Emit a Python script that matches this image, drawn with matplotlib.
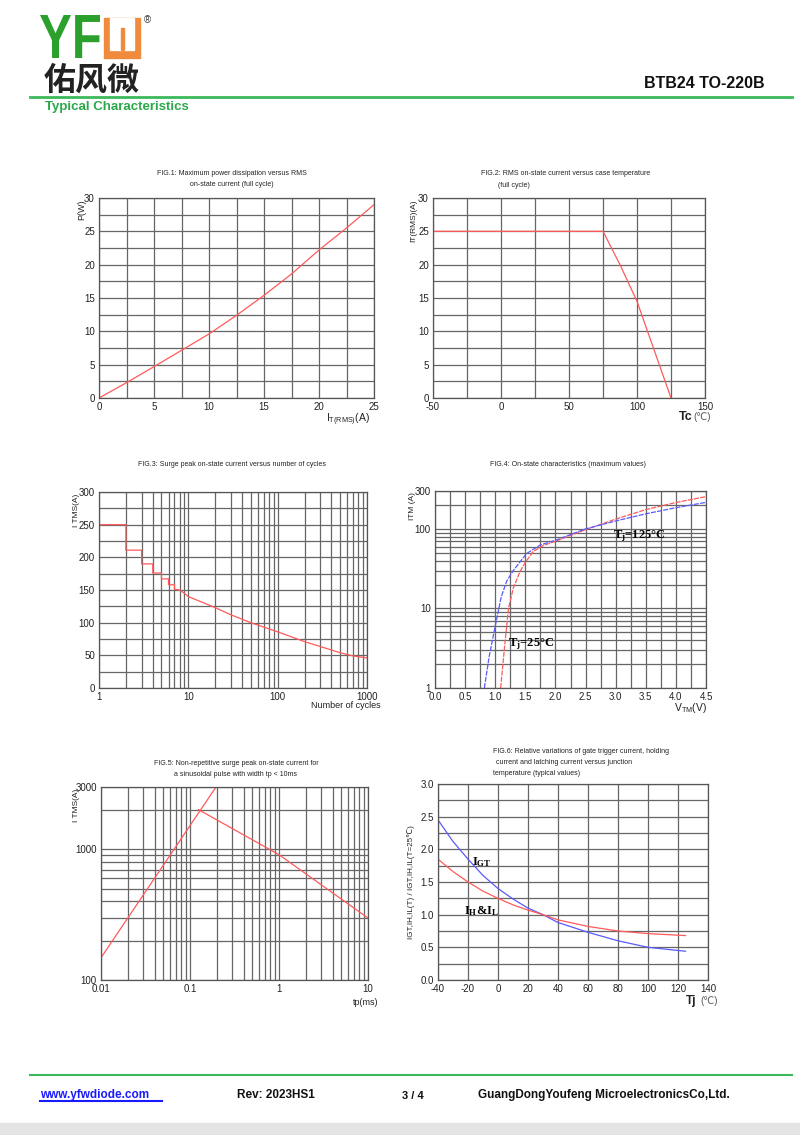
import numpy as np
import matplotlib
matplotlib.use("Agg")
import matplotlib.pyplot as plt
from matplotlib.patches import Rectangle, PathPatch
from matplotlib.textpath import TextPath
from matplotlib.font_manager import FontProperties
from matplotlib.transforms import Affine2D
from matplotlib.ticker import MultipleLocator, LogLocator, NullFormatter, FixedLocator

plt.rcParams['font.family'] = ['Liberation Sans', 'DejaVu Sans']
plt.rcParams['mathtext.default'] = 'regular'
plt.rcParams['axes.unicode_minus'] = False

# ─── Data ───────────────────────────────────────────────────────────────────
# FIG.1  P(W) vs IT(RMS)
fig1_it = [0, 2.5, 5, 7.5, 10, 12.5, 15, 17.5, 20, 22.5, 25]
fig1_p  = [0, 2.3, 4.7, 7.15, 9.6, 12.4, 15.4, 18.6, 22.2, 25.5, 29.0]

# FIG.2  IT(RMS) vs Tc
fig2_tc = [-50, 75, 87.5, 100, 125]
fig2_it = [25, 25, 20, 14.5, 0]

# FIG.3  surge current vs number of cycles (steps then smooth)
fig3_n   = [1, 2, 2, 3, 3, 4, 4, 5, 5, 6, 6, 7, 7, 8, 9, 10, 20, 30, 50, 100, 200, 500, 700, 1000]
fig3_itm = [250, 250, 211, 211, 190, 190, 176, 176, 167, 167, 158, 158, 151, 150, 145, 140,
            123, 112, 100, 86, 71, 54, 49, 46]

# FIG.4  on-state characteristics
fig4_v25  = [1.09, 1.15, 1.22, 1.3, 1.41, 1.5, 1.63, 1.8, 2.0, 2.5, 3.0, 3.5, 4.0, 4.5]
fig4_i25  = [1, 3, 10, 18, 29, 38, 52, 62, 70, 98, 133, 175, 215, 255]
fig4_v125 = [0.82, 0.9, 1.0, 1.1, 1.19, 1.3, 1.52, 1.75, 2.0, 2.5, 3.0, 3.5, 4.0, 4.5]
fig4_i125 = [1, 2.5, 6, 14, 22, 30, 49, 63, 72, 100, 126, 155, 185, 216]

# FIG.5  non-repetitive surge vs tp
fig5_tp_up = [0.01, 0.196]
fig5_i_up  = [148, 3000]
fig5_tp_dn = [0.124, 1, 10]
fig5_i_dn  = [2017, 910, 298]

# FIG.6  relative variation vs Tj
fig6_tj  = [-40, -30, -20, -10, 0, 10, 20, 30, 40, 60, 80, 100, 125]
fig6_igt = [2.45, 2.12, 1.85, 1.6, 1.4, 1.24, 1.1, 1.0, 0.88, 0.73, 0.6, 0.5, 0.44]
fig6_ih  = [1.85, 1.66, 1.5, 1.36, 1.25, 1.15, 1.07, 1.0, 0.92, 0.82, 0.75, 0.71, 0.68]

RED = '#ff5a5a'
BLUE = '#5a5aff'
GRID = '#666666'

W, H = 800, 1135
fig = plt.figure(figsize=(W / 100, H / 100), dpi=100)


def fx(px):
    return px / W


def fy(py):
    return 1 - py / H


def make_axes(x0, y0, x1, y1):
    ax = fig.add_axes([fx(x0), fy(y1), fx(x1 - x0), (y1 - y0) / H])
    for s in ax.spines.values():
        s.set_color('#555555')
        s.set_linewidth(0.9)
    ax.tick_params(which='both', length=0, labelsize=7, pad=3, colors='#222222')
    return ax


def grid(ax):
    ax.grid(which='both', color=GRID, linewidth=0.9)
    ax.set_axisbelow(True)


def ftext(px, py, s, **kw):
    kw.setdefault('fontsize', 5)
    kw.setdefault('color', '#222222')
    fig.text(fx(px), fy(py), s, **kw)


# ─── Header ────────────────────────────────────────────────────────────────
# condensed green "YF" drawn as a scaled text path
yf = TextPath((0, 0), 'YF', size=1, prop=FontProperties(family='Liberation Sans', weight='bold'))
ext = yf.get_extents()
sx = 60 / ext.width
sy = 43 / ext.height
tr = Affine2D().translate(-ext.x0, -ext.y0).scale(sx / W, sy / H).translate(fx(40), fy(58)) \
    + fig.transFigure
fig.add_artist(PathPatch(yf, transform=tr, facecolor='#2ca02c', edgecolor='none'))
# orange stylised W
fig.patches.append(Rectangle((fx(104), fy(58)), fx(36), (58 - 18) / H, transform=fig.transFigure,
                             color='#f08a3c'))
fig.patches.append(Rectangle((fx(110), fy(50)), fx(24), (50 - 18) / H, transform=fig.transFigure,
                             color='white'))
fig.patches.append(Rectangle((fx(120.5), fy(50)), fx(3), (50 - 28) / H, transform=fig.transFigure,
                             color='#f08a3c'))
ftext(144, 20, '®', fontsize=7, color='#333333', va='center')
ftext(44, 90, '佑风微', fontsize=23, fontweight='bold', color='#222222', va='baseline',
      family=['Noto Sans CJK SC', 'DejaVu Sans'])
ftext(765, 88, 'BTB24 TO-220B', fontsize=11.5, fontweight='bold', color='#111111', ha='right',
      va='baseline')
fig.add_artist(plt.Line2D([fx(30), fx(792)], [fy(96.5), fy(96.5)], color='#3cb95a', lw=2))
ftext(45, 110, 'Typical Characteristics', fontsize=9.5, fontweight='bold', color='#2aa84a',
      va='baseline')

# ─── FIG.1 ──────────────────────────────────────────────────────────────────
ax1 = make_axes(99, 198, 374, 398)
ax1.plot(fig1_it, fig1_p, color=RED, lw=0.9)
ax1.set_xlim(0, 25)
ax1.set_ylim(0, 30)
ax1.xaxis.set_major_locator(MultipleLocator(5))
ax1.xaxis.set_minor_locator(MultipleLocator(2.5))
ax1.yaxis.set_major_locator(MultipleLocator(5))
ax1.yaxis.set_minor_locator(MultipleLocator(2.5))
grid(ax1)
ftext(232, 175, 'FIG.1: Maximum power dissipation versus RMS', ha='center')
ftext(232, 186, 'on-state current (full cycle)', ha='center')
ftext(82, 200, 'P(W)', fontsize=6.5, rotation=90, ha='center', va='top')
ftext(326, 422, r'$\mathregular{I_{T(RMS)}(A)}$', fontsize=7.5, va='baseline')

# ─── FIG.2 ──────────────────────────────────────────────────────────────────
ax2 = make_axes(433, 198, 705, 398)
ax2.plot(fig2_tc, fig2_it, color=RED, lw=0.9)
ax2.set_xlim(-50, 150)
ax2.set_ylim(0, 30)
ax2.xaxis.set_major_locator(MultipleLocator(50))
ax2.xaxis.set_minor_locator(MultipleLocator(25))
ax2.yaxis.set_major_locator(MultipleLocator(5))
ax2.yaxis.set_minor_locator(MultipleLocator(2.5))
grid(ax2)
ftext(566, 175, 'FIG.2: RMS on-state current versus case temperature', ha='center')
ftext(498, 187, '(full cycle)')
ftext(414, 200, 'IT(RMS)(A)', fontsize=6, rotation=90, ha='center', va='top')
ftext(679, 420, 'Tc', fontsize=9, fontweight='bold', va='baseline')
ftext(693, 420, '(℃)', fontsize=7, color='#555555', va='baseline')

# ─── FIG.3 ──────────────────────────────────────────────────────────────────
ax3 = make_axes(99, 492, 367, 688)
ax3.plot(fig3_n, fig3_itm, color=RED, lw=0.9)
ax3.set_xscale('log')
ax3.set_xlim(1, 1000)
ax3.set_ylim(0, 300)
ax3.xaxis.set_major_locator(FixedLocator([1, 10, 100, 1000]))
ax3.xaxis.set_major_formatter(plt.FixedFormatter(['1', '10', '100', '1000']))
ax3.xaxis.set_minor_locator(LogLocator(base=10, subs=np.arange(2, 10)))
ax3.xaxis.set_minor_formatter(NullFormatter())
ax3.yaxis.set_major_locator(MultipleLocator(50))
ax3.yaxis.set_minor_locator(MultipleLocator(25))
grid(ax3)
ftext(232, 466, 'FIG.3: Surge peak on-state current versus number of cycles', ha='center')
ftext(76, 494, 'I TMS(A)', fontsize=6, rotation=90, ha='center', va='top')
ftext(381, 708, 'Number of cycles', fontsize=6.5, ha='right', va='baseline')

# ─── FIG.4 ──────────────────────────────────────────────────────────────────
ax4 = make_axes(435, 491, 706, 688)
ax4.plot(fig4_v25, fig4_i25, color=RED, lw=0.9, ls=(0, (4, 1)))
ax4.plot(fig4_v125, fig4_i125, color=BLUE, lw=0.9, ls=(0, (4, 1)))
ax4.set_yscale('log')
ax4.set_xlim(0, 4.5)
ax4.set_ylim(1, 300)
ax4.xaxis.set_major_locator(MultipleLocator(0.5))
ax4.xaxis.set_minor_locator(MultipleLocator(0.25))
ax4.xaxis.set_major_formatter(plt.FormatStrFormatter('%.1f'))
ax4.yaxis.set_major_locator(FixedLocator([1, 10, 100, 300]))
ax4.yaxis.set_major_formatter(plt.FixedFormatter(['1', '10', '100', '300']))
ax4.yaxis.set_minor_locator(LogLocator(base=10, subs=np.arange(2, 10)))
ax4.yaxis.set_minor_formatter(NullFormatter())
grid(ax4)
ax4.text(2.95, 82, r'T$_\mathregular{j}$=125°C', fontsize=9, fontweight='bold',
         family='Liberation Serif', va='center')
ax4.text(1.22, 3.6, r'T$_\mathregular{j}$=25°C', fontsize=9, fontweight='bold',
         family='Liberation Serif', va='center')
ftext(568, 466, 'FIG.4: On-state characteristics (maximum values)', ha='center')
ftext(412, 492, 'ITM (A)', fontsize=6, rotation=90, ha='center', va='top')
ftext(674, 711, r'$\mathregular{V_{TM}(V)}$', fontsize=7.5, va='baseline')

# ─── FIG.5 ──────────────────────────────────────────────────────────────────
ax5 = make_axes(101, 787, 368, 980)
ax5.plot(fig5_tp_up, fig5_i_up, color=RED, lw=0.9)
ax5.plot(fig5_tp_dn, fig5_i_dn, color=RED, lw=0.9)
ax5.set_xscale('log')
ax5.set_yscale('log')
ax5.set_xlim(0.01, 10)
ax5.set_ylim(100, 3000)
ax5.xaxis.set_major_locator(FixedLocator([0.01, 0.1, 1, 10]))
ax5.xaxis.set_major_formatter(plt.FixedFormatter(['0.01', '0.1', '1', '10']))
ax5.xaxis.set_minor_locator(LogLocator(base=10, subs=np.arange(2, 10)))
ax5.xaxis.set_minor_formatter(NullFormatter())
ax5.yaxis.set_major_locator(FixedLocator([100, 1000, 3000]))
ax5.yaxis.set_major_formatter(plt.FixedFormatter(['100', '1000', '3000']))
ax5.yaxis.set_minor_locator(LogLocator(base=10, subs=np.arange(2, 10)))
ax5.yaxis.set_minor_formatter(NullFormatter())
grid(ax5)
ftext(236, 765, 'FIG.5: Non-repetitive surge peak on-state current for', ha='center')
ftext(236, 776, 'a sinusoidal pulse with width tp < 10ms', ha='center')
ftext(76, 789, 'I TMS(A)', fontsize=6, rotation=90, ha='center', va='top')
ftext(378, 1005, 'tp(ms)', fontsize=6.5, ha='right', va='baseline')

# ─── FIG.6 ──────────────────────────────────────────────────────────────────
ax6 = make_axes(438, 784, 708, 980)
ax6.plot(fig6_tj, fig6_igt, color=BLUE, lw=0.9)
ax6.plot(fig6_tj, fig6_ih, color=RED, lw=0.9)
ax6.set_xlim(-40, 140)
ax6.set_ylim(0, 3.0)
ax6.xaxis.set_major_locator(MultipleLocator(20))
ax6.yaxis.set_major_locator(MultipleLocator(0.5))
ax6.yaxis.set_minor_locator(MultipleLocator(0.25))
ax6.yaxis.set_major_formatter(plt.FormatStrFormatter('%.1f'))
grid(ax6)
ax6.text(-17, 1.8, r'I$_\mathregular{GT}$', fontsize=9, fontweight='bold',
         family='Liberation Serif', va='center')
ax6.text(-23, 1.05, r'I$_\mathregular{H}$&I$_\mathregular{L}$', fontsize=9, fontweight='bold',
         family='Liberation Serif', va='center')
ftext(493, 753, 'FIG.6: Relative variations of gate trigger current, holding')
ftext(496, 764, 'current and latching current versus junction')
ftext(493, 775, 'temperature (typical values)')
ftext(411, 882, 'IGT,IH,IL(T) / IGT,IH,IL(T=25℃)', fontsize=5.8, rotation=90,
      ha='center', va='center')
ftext(686, 1004, 'Tj', fontsize=8.5, fontweight='bold', va='baseline')
ftext(700, 1004, '(℃)', fontsize=7, color='#555555', va='baseline')

# ─── Footer ─────────────────────────────────────────────────────────────────
fig.add_artist(plt.Line2D([fx(30), fx(792)], [fy(1075), fy(1075)], color='#3cb95a', lw=1.5))
ftext(40, 1098, 'www.yfwdiode.com', fontsize=8.5, fontweight='bold', color='#1a1aff',
      va='baseline')
fig.add_artist(plt.Line2D([fx(40), fx(162)], [fy(1101), fy(1101)], color='#1a1aff', lw=1.5))
ftext(237, 1098, 'Rev: 2023HS1', fontsize=8.5, fontweight='bold', color='#111111', va='baseline')
ftext(402, 1099, '3 / 4', fontsize=8, fontweight='bold', color='#111111', va='baseline')
ftext(478, 1098, 'GuangDongYoufeng MicroelectronicsCo,Ltd.', fontsize=8.5, fontweight='bold',
      color='#111111', va='baseline')
fig.patches.append(Rectangle((0, 0), 1, 12 / H, transform=fig.transFigure, color='#e4e4e4'))

fig.savefig('out.png', dpi=100)
